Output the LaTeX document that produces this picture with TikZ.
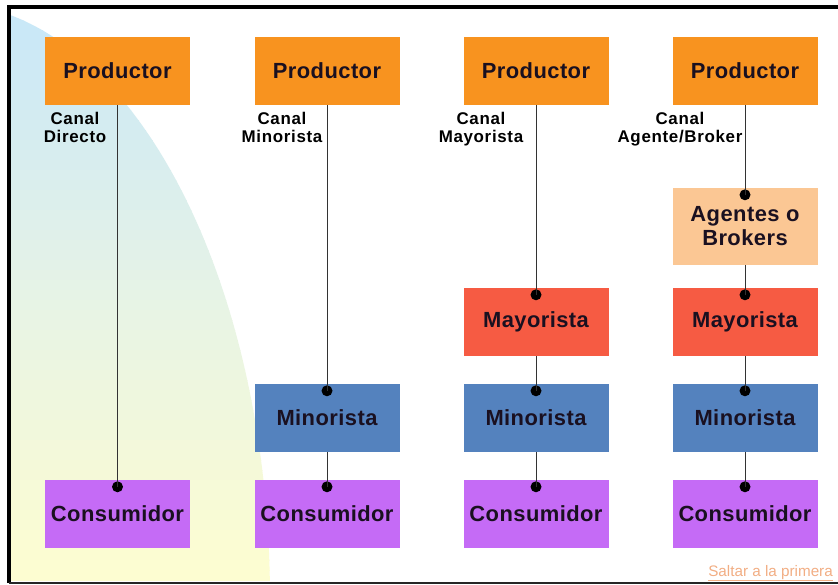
\documentclass[tikz,border=0pt]{standalone}
\usepackage{fontspec}
\setmainfont{Liberation Sans}
\usetikzlibrary{calc}
\definecolor{cProd}{HTML}{F8931F}
\definecolor{cAgen}{HTML}{FBC794}
\definecolor{cMay}{HTML}{F65B43}
\definecolor{cMin}{HTML}{5482BE}
\definecolor{cCons}{HTML}{C56BF6}
\definecolor{cBlue}{HTML}{C8E7F8}
\definecolor{cMid}{HTML}{E6F3E6}
\definecolor{cYel}{HTML}{FDFDD1}
\definecolor{cLink}{HTML}{F2AE84}
\definecolor{cText}{HTML}{1A1020}
\tikzset{
  box/.style={minimum width=145bp, minimum height=68bp, inner sep=0pt,
    font=\fontsize{22}{24}\selectfont\bfseries\addfontfeature{LetterSpace=2},
    text=cText, align=center},
  dotnode/.style={circle, fill=black, minimum size=11bp, inner sep=0pt},
  conn/.style={draw=black!80, line width=0.9bp},
  canal/.style={anchor=north, inner sep=0pt, align=center,
    font=\fontsize{17}{18.5}\selectfont\bfseries\addfontfeature{LetterSpace=4},
    text=black},
  frameline/.style={draw=black, line width=3.5bp}
}
\begin{document}
\begin{tikzpicture}[x=1bp, y=-1bp]
\useasboundingbox (0,0) rectangle (838,585);
\fill[white] (0,0) rectangle (838,585);
% background gradient shape (part of an ellipse), built from solid strips
\begin{scope}
  \clip (-55,600) ellipse [x radius=325, y radius=597];
  \foreach \i in {0,...,56}{
    \pgfmathsetmacro{\t}{\i/56}
    \pgfmathsetmacro{\ya}{10+\i*10}
    \pgfmathtruncatemacro{\pa}{max(0,100-200*\t)}
    \pgfmathtruncatemacro{\pb}{max(0,200-200*\t)}
    \ifdim\t pt<0.5pt
      \fill[cBlue!\pa!cMid] (11,\ya) rectangle (300,\ya+10.6);
    \else
      \fill[cMid!\pb!cYel] (11,\ya) rectangle (300,\ya+10.6);
    \fi
  }
\end{scope}
% frame
\draw[frameline] (9,7) -- (838,7);
\draw[frameline] (9,5.25) -- (9,583);
\draw[draw=black!85, line width=2bp] (9,583) -- (838,583);

% column 1
\node[box, fill=cProd] (p1) at (117.5,71) {Productor};
\node[box, fill=cCons] (c1) at (117.5,514) {Consumidor};
% column 2
\node[box, fill=cProd] (p2) at (327,71) {Productor};
\node[box, fill=cMin] (m2) at (327,418) {Minorista};
\node[box, fill=cCons] (c2) at (327,514) {Consumidor};
% column 3
\node[box, fill=cProd] (p3) at (536,71) {Productor};
\node[box, fill=cMay] (y3) at (536,322) {Mayorista};
\node[box, fill=cMin] (m3) at (536,418) {Minorista};
\node[box, fill=cCons] (c3) at (536,514) {Consumidor};
% column 4
\node[box, fill=cProd] (p4) at (745,71) {Productor};
\node[box, fill=cAgen, minimum height=77bp] (a4) at (745,226.5) {Agentes o\\Brokers};
\node[box, fill=cMay] (y4) at (745,322) {Mayorista};
\node[box, fill=cMin] (m4) at (745,418) {Minorista};
\node[box, fill=cCons] (c4) at (745,514) {Consumidor};

% dots
\foreach \n in {c1,m2,c2,y3,m3,c3,a4,y4,m4,c4}{
  \node[dotnode] (d\n) at ($(\n.north)+(0,7)$) {};
}
% connectors
\draw[conn] (p1.south) -- (dc1.center);
\draw[conn] (p2.south) -- (dm2.center);
\draw[conn] (m2.south) -- (dc2.center);
\draw[conn] (p3.south) -- (dy3.center);
\draw[conn] (y3.south) -- (dm3.center);
\draw[conn] (m3.south) -- (dc3.center);
\draw[conn] (p4.south) -- (da4.center);
\draw[conn] (a4.south) -- (dy4.center);
\draw[conn] (y4.south) -- (dm4.center);
\draw[conn] (m4.south) -- (dc4.center);

% channel labels
\node[canal] (l1) at (75,112) {Canal\\Directo};
\node[canal] (l2) at (282,112) {Canal\\Minorista};
\node[canal] (l3) at (481,112) {Canal\\Mayorista};
\node[canal] (l4) at (680,112) {Canal\\Agente/Broker};

% link
\node[anchor=base east, inner sep=0pt, text=cLink,
  font=\fontsize{15.3}{17}\selectfont] (link) at (833,576) {\underline{Saltar a la primera}};
\end{tikzpicture}
\end{document}
